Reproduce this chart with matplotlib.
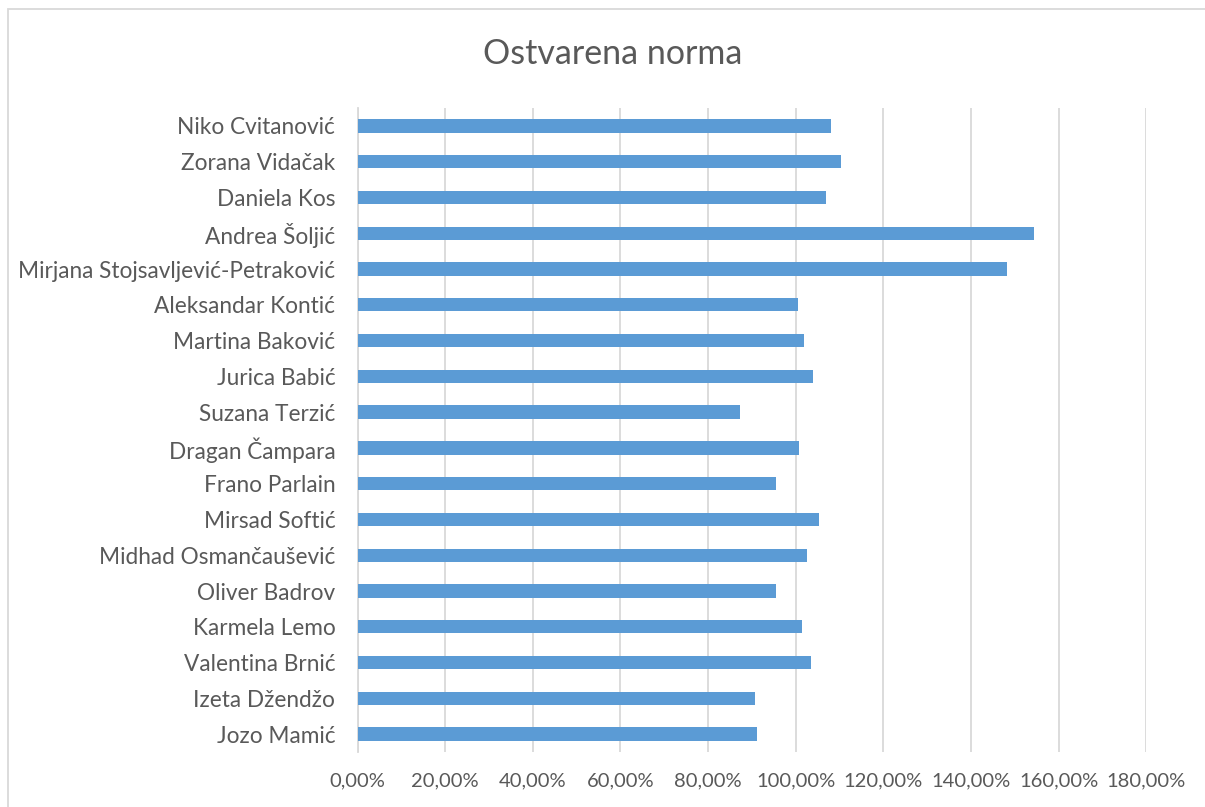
import numpy as np
import matplotlib.pyplot as plt
from matplotlib.patches import Rectangle
from matplotlib.ticker import FuncFormatter

# names top to bottom as in the chart
names = ['Niko Cvitanović', 'Zorana Vidačak', 'Daniela Kos', 'Andrea Šoljić',
         'Mirjana Stojsavljević-Petraković', 'Aleksandar Kontić', 'Martina Baković',
         'Jurica Babić', 'Suzana Terzić', 'Dragan Čampara', 'Frano Parlain',
         'Mirsad Softić', 'Midhad Osmančaušević', 'Oliver Badrov', 'Karmela Lemo',
         'Valentina Brnić', 'Izeta Džendžo', 'Jozo Mamić']
norma = [108.0, 110.3, 106.8, 154.3, 148.3, 100.5, 102.0, 104.0, 87.3,
         100.8, 95.5, 105.2, 102.6, 95.4, 101.4, 103.4, 90.8, 91.2]
xticks = [0, 20, 40, 60, 80, 100, 120, 140, 160, 180]

txt = '#595959'
grid = '#D9D9D9'
plt.rcParams['font.family'] = ['Lato', 'DejaVu Sans']

fig = plt.figure(figsize=(12.05, 8.07), dpi=100)
ax = fig.add_axes([357.5 / 1205, 1 - 752 / 807, (1146.3 - 357.5) / 1205, (752 - 108) / 807])

y = np.arange(len(names))[::-1]
ax.barh(y, norma, height=0.37, color='#5B9BD5', zorder=3)

ax.set_xlim(0, 180)
ax.set_ylim(-0.5, len(names) - 0.5)
ax.set_xticks(xticks)
ax.xaxis.set_major_formatter(FuncFormatter(lambda v, p: f'{v:.2f}%'.replace('.', ',')))
ax.set_yticks(y)
ax.set_yticklabels(names)
ax.grid(axis='x', color=grid, lw=1.3, zorder=0)
ax.tick_params(axis='both', length=0, colors=txt)
ax.tick_params(axis='x', pad=15, labelsize=14.5)
ax.tick_params(axis='y', pad=16, labelsize=16.3)
for s in ['top', 'right', 'bottom']:
    ax.spines[s].set_visible(False)
ax.spines['left'].set_color(grid)
ax.spines['left'].set_linewidth(1.3)

fig.text(613 / 1205, 1 - 54 / 807, 'Ostvarena norma', ha='center', va='center',
         fontsize=24.5, color=txt)

# outer chart border, runs off the right and bottom edges
fig.patches.append(Rectangle((8 / 1205, -0.01), 1.02, 1 - 9 / 807 + 0.01,
                             transform=fig.transFigure, fill=False,
                             edgecolor=grid, lw=1.3))

fig.savefig('out.png', dpi=100)
